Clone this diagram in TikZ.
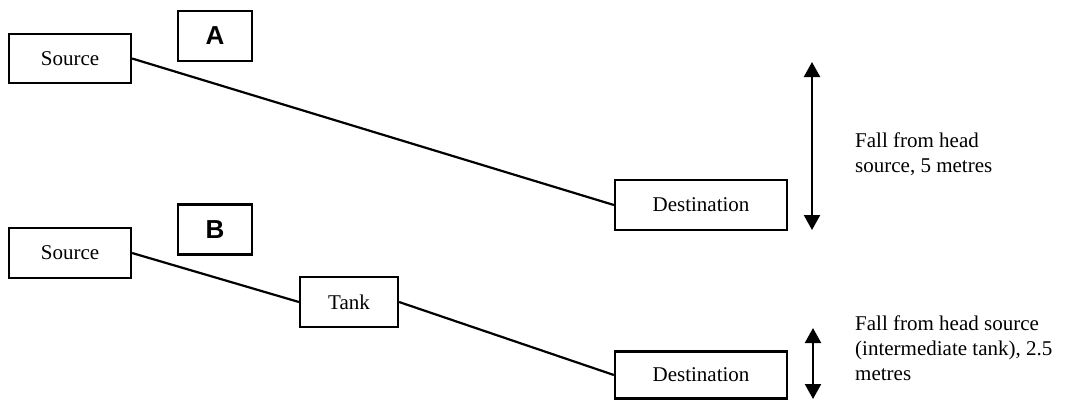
\documentclass[tikz,border=0pt]{standalone}
\usepackage{fontspec}
\setmainfont{Liberation Serif}
\newfontfamily\labfont{Liberation Sans}
\usetikzlibrary{arrows.meta}
\begin{document}
\begin{tikzpicture}[x=1pt,y=-1pt,
  box/.style={draw,line width=2.2pt,inner sep=0pt,font=\fontsize{21}{25}\selectfont},
  tagbox/.style={draw,line width=2.2pt,inner sep=0pt,minimum width=74pt,minimum height=50pt,font=\labfont\bfseries\fontsize{26}{30}\selectfont},
  pipe/.style={line width=2.2pt},
  fall/.style={line width=2.2pt,{Triangle[length=15pt,width=16pt]}-{Triangle[length=15pt,width=16pt]}},
  note/.style={anchor=north west,align=left,inner sep=0pt,font=\fontsize{21}{25}\selectfont}]
\useasboundingbox (0,0) rectangle (1065,400);
% A
\node[box,minimum width=122pt,minimum height=49pt] (srcA) at (70,58.5) {Source};
\node[tagbox] (tagA) at (215,36) {A};
\node[box,minimum width=172pt,minimum height=50pt] (dstA) at (701,205) {Destination};
\draw[pipe] (srcA.east) -- (dstA.west);
\coordinate (fAt) at (812,62);
\coordinate (fAb) at (812,230);
\draw[fall] (fAt) -- (fAb);
\node[note] (txtA) at (855,133) {Fall from head\\source, 5 metres};
% B
\node[box,minimum width=122pt,minimum height=50pt] (srcB) at (70,253) {Source};
\node[tagbox] (tagB) at (215,229.5) {B};
\node[box,minimum width=98pt,minimum height=50pt] (tank) at (349,302) {Tank};
\node[box,minimum width=172pt,minimum height=47pt] (dstB) at (701,375) {Destination};
\draw[pipe] (srcB.east) -- (tank.west);
\draw[pipe] (tank.east) -- (dstB.west);
\coordinate (fBt) at (813,328);
\coordinate (fBb) at (813,399);
\draw[fall] (fBt) -- (fBb);
\node[note] (txtB) at (855,316) {Fall from head source\\(intermediate tank), 2.5\\metres};
\end{tikzpicture}
\end{document}
